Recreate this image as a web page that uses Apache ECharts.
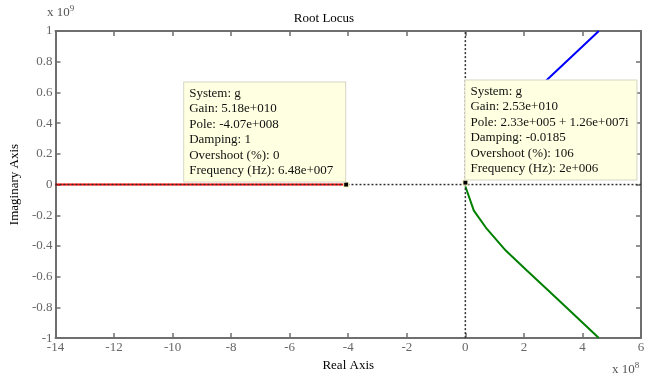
<!DOCTYPE html>
<html>
<head>
<meta charset="utf-8">
<script src="https://cdn.jsdelivr.net/npm/echarts@6/dist/echarts.min.js"></script>
<style>
html, body { margin: 0; padding: 0; background: #fff; }
#main { width: 648px; height: 377px; }
</style>
</head>
<body>
<div id="main"></div>
<script>
// real axis in units of 1e8, imaginary axis in units of 1e9
var xTicks = [-14, -12, -10, -8, -6, -4, -2, 0, 2, 4, 6];
var yTicks = [-1, -0.8, -0.6, -0.4, -0.2, 0, 0.2, 0.4, 0.6, 0.8, 1];

var redBranch = [[-14, 0], [-4.07, 0]];
var blueBranch = [[0.0023, 0.0126], [0.02, 0.025], [0.29, 0.17], [0.70, 0.28], [1.38, 0.43], [2.11, 0.561], [2.89, 0.70], [3.68, 0.842], [4.56, 1.0]];
var greenBranch = [[0.0023, -0.0126], [0.02, -0.025], [0.29, -0.17], [0.70, -0.28], [1.38, -0.43], [2.11, -0.561], [2.89, -0.70], [3.68, -0.842], [4.56, -1.0]];

var tip1 = ['System: g', 'Gain: 5.18e+010', 'Pole: -4.07e+008', 'Damping: 1', 'Overshoot (%): 0', 'Frequency (Hz): 6.48e+007'];
var tip2 = ['System: g', 'Gain: 2.53e+010', 'Pole: 2.33e+005 + 1.26e+007i', 'Damping: -0.0185', 'Overshoot (%): 106', 'Frequency (Hz): 2e+006'];

var serif = 'Liberation Serif';
var axisGray = '#6f6f6f';

var chartDom = document.getElementById('main');
var myChart = echarts.init(chartDom);

function tipLabel(lines, boxWidth, dx) {
    return {
        show: true,
        position: [dx, 0],
        align: 'left',
        verticalAlign: 'bottom',
        width: boxWidth,
        overflow: 'none',
        formatter: lines.join('\n'),
        fontFamily: serif,
        fontSize: 13,
        lineHeight: 15.5,
        color: '#111',
        backgroundColor: '#ffffe1',
        borderColor: '#d6d6c6',
        borderWidth: 1,
        padding: [3, 4, 3, 5]
    };
}

var option = {
    backgroundColor: '#fff',
    animation: false,
    title: {
        text: 'Root Locus',
        left: 'center',
        top: 7,
        textStyle: { fontFamily: serif, fontSize: 13, fontWeight: 'normal', color: '#000' }
    },
    grid: { left: 49, right: 7, top: 31, bottom: 35 },
    xAxis: [{
        type: 'value', min: -14, max: 6, interval: 2,
        name: 'Real Axis', nameLocation: 'middle', nameGap: 19,
        nameTextStyle: { fontFamily: serif, fontSize: 13, color: '#000' },
        axisLine: { onZero: false, lineStyle: { color: axisGray, width: 2 } },
        axisTick: { inside: true, length: 5, lineStyle: { color: axisGray, width: 1.5 } },
        axisLabel: { fontFamily: serif, fontSize: 13, color: '#666', margin: 3 },
        splitLine: { show: false }
    }, {
        type: 'value', min: -14, max: 6, interval: 2, position: 'top',
        axisLine: { onZero: false, lineStyle: { color: axisGray, width: 2 } },
        axisTick: { inside: true, length: 5, lineStyle: { color: axisGray, width: 1.5 } },
        axisLabel: { show: false },
        splitLine: { show: false }
    }],
    yAxis: [{
        type: 'value', min: -1, max: 1, interval: 0.2,
        name: 'Imaginary Axis', nameLocation: 'middle', nameGap: 29,
        nameTextStyle: { fontFamily: serif, fontSize: 13, color: '#000' },
        axisLine: { onZero: false, lineStyle: { color: axisGray, width: 2 } },
        axisTick: { inside: true, length: 5, lineStyle: { color: axisGray, width: 1.5 } },
        axisLabel: {
            fontFamily: serif, fontSize: 13, color: '#666', margin: 3,
            formatter: function (v) { return String(Math.round(v * 10) / 10); }
        },
        splitLine: { show: false }
    }, {
        type: 'value', min: -1, max: 1, interval: 0.2, position: 'right',
        axisLine: { onZero: false, lineStyle: { color: axisGray, width: 2 } },
        axisTick: { inside: true, length: 5, lineStyle: { color: axisGray, width: 1.5 } },
        axisLabel: { show: false },
        splitLine: { show: false }
    }],
    graphic: [{
        type: 'text', left: 47, top: 4,
        style: {
            text: 'x 10{s|9}', fill: '#555', font: '13px ' + serif,
            rich: { s: { fontSize: 9, verticalAlign: 'top', padding: [0, 0, 8, 0], fontFamily: serif, fill: '#555' } }
        }
    }, {
        type: 'text', left: 612, top: 361,
        style: {
            text: 'x 10{s|8}', fill: '#555', font: '13px ' + serif,
            rich: { s: { fontSize: 9, verticalAlign: 'top', padding: [0, 0, 8, 0], fontFamily: serif, fill: '#555' } }
        }
    }],
    series: [
        {
            name: 'red', type: 'line', symbol: 'none', z: 2,
            lineStyle: { color: '#ff0000', width: 2 },
            data: redBranch
        },
        {
            name: 'blue', type: 'line', symbol: 'none', z: 2,
            lineStyle: { color: '#0000ff', width: 2 },
            data: blueBranch
        },
        {
            name: 'green', type: 'line', symbol: 'none', z: 2,
            lineStyle: { color: '#008000', width: 2 },
            data: greenBranch
        },
        {
            name: 'realZero', type: 'line', symbol: 'none', z: 3,
            lineStyle: { color: '#333', width: 1.5, type: [2, 2] },
            data: [[xTicks[0], 0], [xTicks[xTicks.length - 1], 0]]
        },
        {
            name: 'imagZero', type: 'line', symbol: 'none', z: 3,
            lineStyle: { color: '#333', width: 1.5, type: [2, 2] },
            data: [[0, yTicks[0]], [0, yTicks[yTicks.length - 1]]]
        },
        {
            name: 'tips', type: 'scatter', symbol: 'rect', symbolSize: 5, z: 5,
            itemStyle: { color: '#000', borderColor: '#ffffc8', borderWidth: 1, opacity: 1 },
            data: [
                { value: [-4.07, 0], label: tipLabel(tip1, 152, -159) },
                { value: [0.0023, 0.0126], label: tipLabel(tip2, 162, 3) }
            ]
        }
    ]
};
option && myChart.setOption(option);

window.addEventListener('resize', function () {
    myChart.resize();
});
</script>
</body>
</html>
